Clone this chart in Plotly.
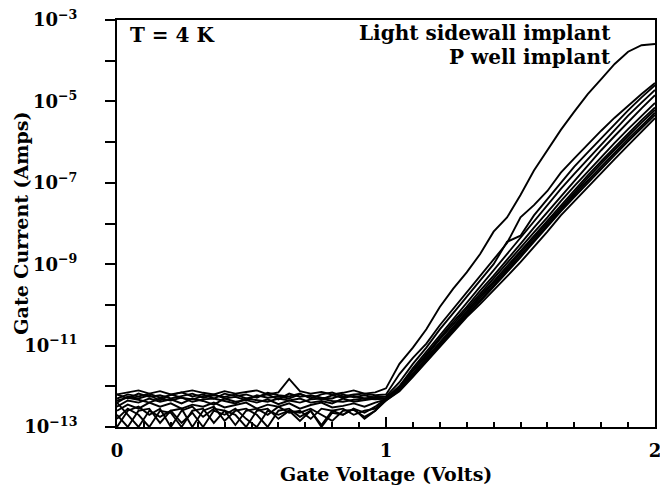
import plotly.graph_objects as go

# Gate voltage sample points (Volts)
v_floor = [0.00, 0.04, 0.08, 0.12, 0.16, 0.20, 0.24, 0.28, 0.32, 0.36, 0.40, 0.44, 0.48,
           0.52, 0.56, 0.60, 0.64, 0.68, 0.72, 0.76, 0.80, 0.84, 0.88, 0.92, 0.96]
v_rise = [1.00, 1.05, 1.10, 1.15, 1.20, 1.25, 1.30, 1.35, 1.40, 1.45, 1.50,
          1.55, 1.60, 1.65, 1.70, 1.75, 1.80, 1.85, 1.90, 1.95, 2.00]

# log10 of gate current (Amps)
a_floor = [-12.2, -12.15, -12.1, -12.18, -12.12, -12.2, -12.15, -12.1, -12.16, -12.2, -12.12, -12.18, -12.14,
           -12.1, -12.2, -12.15, -11.82, -12.12, -12.18, -12.14, -12.2, -12.16, -12.1, -12.18, -12.15]
a_rise = [-12.05, -11.45, -11.05, -10.6, -10.05, -9.6, -9.2, -8.75, -8.2, -7.85, -7.3,
          -6.7, -6.2, -5.7, -5.25, -4.82, -4.45, -4.08, -3.78, -3.62, -3.59]

b_floor = [-12.3, -12.2, -12.25, -12.18, -12.28, -12.22, -12.15, -12.25, -12.2, -12.3, -12.18, -12.24, -12.2,
           -12.28, -12.16, -12.22, -12.25, -12.18, -12.3, -12.2, -12.15, -12.25, -12.2, -12.18, -12.22]
b_rise = [-12.2, -11.7, -11.3, -10.95, -10.5, -10.1, -9.7, -9.3, -8.9, -8.48, -7.85,
          -7.55, -7.2, -6.75, -6.4, -6.05, -5.72, -5.4, -5.1, -4.82, -4.55]

c_floor = [-12.4, -12.25, -12.3, -12.22, -12.35, -12.2, -12.28, -12.32, -12.24, -12.2, -12.3, -12.26, -12.34,
           -12.22, -12.28, -12.25, -12.3, -12.2, -12.26, -12.32, -12.22, -12.28, -12.24, -12.3, -12.26]
c_rise = [-12.25, -11.9, -11.45, -11.05, -10.6, -10.2, -9.8, -9.4, -9.0, -8.45, -8.3,
          -7.8, -7.4, -7.0, -6.6, -6.25, -5.9, -5.55, -5.22, -4.9, -4.6]

d_floor = [-12.2, -12.3, -12.18, -12.26, -12.22, -12.3, -12.24, -12.18, -12.28, -12.22, -12.26, -12.2, -12.3,
           -12.25, -12.2, -12.32, -12.18, -12.26, -12.22, -12.28, -12.3, -12.2, -12.27, -12.22, -12.28]
d_rise = [-12.3, -12.0, -11.55, -11.15, -10.75, -10.35, -9.95, -9.55, -9.15, -8.75, -8.35,
          -7.95, -7.55, -7.15, -6.78, -6.42, -6.05, -5.7, -5.35, -5.03, -4.72]

e_floor = [-12.5, -12.35, -12.4, -12.3, -12.38, -12.32, -12.42, -12.3, -12.36, -12.45, -12.3, -12.38, -12.34,
           -12.4, -12.32, -12.44, -12.35, -12.3, -12.4, -12.36, -12.42, -12.3, -12.38, -12.34, -12.3]
e_rise = [-12.3, -12.0, -11.6, -11.2, -10.8, -10.42, -10.05, -9.65, -9.28, -8.9, -8.5,
          -8.1, -7.72, -7.33, -6.95, -6.58, -6.2, -5.85, -5.5, -5.17, -4.85]

f_floor = [-12.35, -12.28, -12.33, -12.4, -12.3, -12.35, -12.28, -12.38, -12.32, -12.3, -12.36, -12.42, -12.3,
           -12.34, -12.38, -12.3, -12.35, -12.4, -12.32, -12.3, -12.36, -12.38, -12.33, -12.3, -12.32]
f_rise = [-12.3, -12.02, -11.62, -11.25, -10.85, -10.48, -10.1, -9.72, -9.35, -8.98, -8.6,
          -8.22, -7.85, -7.45, -7.08, -6.72, -6.37, -6.02, -5.68, -5.35, -5.04]

g_floor = [-12.6, -12.45, -12.55, -12.4, -12.5, -12.42, -12.55, -12.45, -12.5, -12.4, -12.52, -12.46, -12.4,
           -12.55, -12.45, -12.5, -12.42, -12.55, -12.46, -12.4, -12.52, -12.48, -12.42, -12.5, -12.4]
g_rise = [-12.32, -12.05, -11.68, -11.3, -10.9, -10.52, -10.15, -9.78, -9.42, -9.05, -8.68,
          -8.3, -7.92, -7.55, -7.18, -6.82, -6.47, -6.12, -5.79, -5.46, -5.15]

h_floor = [-13.0, -12.6, -12.5, -12.7, -12.55, -13.0, -12.6, -12.5, -12.75, -12.55, -12.6, -12.95, -12.6,
           -12.55, -12.7, -12.5, -12.65, -12.6, -12.8, -12.55, -12.6, -12.7, -12.55, -12.65, -12.5]
h_rise = [-12.3, -12.08, -11.7, -11.32, -10.95, -10.58, -10.2, -9.83, -9.47, -9.1, -8.72,
          -8.35, -7.98, -7.6, -7.24, -6.88, -6.53, -6.18, -5.85, -5.52, -5.21]

i_floor = [-12.7, -13.0, -12.6, -12.55, -12.9, -12.6, -12.55, -13.0, -12.6, -12.5, -12.85, -12.6, -12.55,
           -12.7, -13.0, -12.6, -12.55, -12.75, -12.6, -12.95, -12.6, -12.55, -12.7, -12.6, -12.55]
i_rise = [-12.35, -12.1, -11.72, -11.35, -10.97, -10.6, -10.24, -9.88, -9.52, -9.15, -8.78,
          -8.4, -8.03, -7.66, -7.3, -6.95, -6.6, -6.25, -5.92, -5.6, -5.28]

j_floor = [-12.8, -12.55, -12.7, -13.0, -12.6, -12.65, -13.0, -12.6, -12.55, -12.9, -12.6, -12.7, -13.0,
           -12.6, -12.55, -12.8, -12.6, -12.65, -12.55, -12.7, -12.85, -12.6, -12.58, -12.75, -12.6]
j_rise = [-12.3, -12.1, -11.75, -11.38, -11.0, -10.62, -10.27, -9.92, -9.56, -9.2, -8.83,
          -8.45, -8.07, -7.7, -7.35, -7.0, -6.66, -6.32, -5.98, -5.65, -5.33]

l_floor = [-12.4, -12.7, -13.0, -12.6, -12.75, -12.6, -12.9, -12.65, -13.0, -12.6, -12.7, -12.55, -12.8,
           -13.0, -12.6, -12.7, -12.6, -12.85, -12.6, -13.0, -12.65, -12.7, -12.55, -12.8, -12.6]
l_rise = [-12.35, -12.12, -11.77, -11.4, -11.02, -10.65, -10.3, -9.98, -9.65, -9.3, -8.95,
          -8.58, -8.2, -7.8, -7.45, -7.1, -6.75, -6.42, -6.08, -5.75, -5.41]

y_tick_exps = [-13, -12, -11, -10, -9, -8, -7, -6, -5, -4, -3]
y_tick_text = ["10<sup>−13</sup>", "", "10<sup>−11</sup>", "", "10<sup>−9</sup>", "",
               "10<sup>−7</sup>", "", "10<sup>−5</sup>", "", "10<sup>−3</sup>"]
x_tick_vals = [0, 1, 2]
x_tick_text = ["0", "1", "2"]

curves = [(a_floor, a_rise), (b_floor, b_rise), (c_floor, c_rise), (d_floor, d_rise),
          (e_floor, e_rise), (f_floor, f_rise), (g_floor, g_rise), (h_floor, h_rise),
          (i_floor, i_rise), (j_floor, j_rise), (l_floor, l_rise)]

FONT = "DejaVu Serif"
fig = go.Figure()
for fl, ri in curves:
    xs = v_floor + v_rise
    ys = [10 ** e for e in fl + ri]
    fig.add_trace(go.Scatter(x=xs, y=ys, mode="lines",
                             line=dict(color="black", width=1.9),
                             showlegend=False, hoverinfo="skip"))

fig.update_layout(
    width=660, height=486,
    margin=dict(l=117, r=5, t=20, b=59),
    paper_bgcolor="white", plot_bgcolor="white",
    font=dict(family=FONT, size=16, color="black"),
    showlegend=False,
)
fig.update_xaxes(
    range=[0, 2], showgrid=False, zeroline=False, automargin=False,
    showline=True, linecolor="black", linewidth=2, mirror=True,
    tickmode="array", tickvals=x_tick_vals, ticktext=x_tick_text,
    ticks="inside", ticklen=10, tickwidth=2, tickcolor="black",
    minor=dict(dtick=0.1, ticks="inside", ticklen=5, tickwidth=1.5, tickcolor="black", showgrid=False),
    tickfont=dict(family=FONT, size=18, weight="bold"),
    ticklabelstandoff=6, ticklabeloverflow="allow",
)
fig.update_yaxes(
    type="log", range=[-13, -3], showgrid=False, zeroline=False, automargin=False,
    showline=True, linecolor="black", linewidth=2, mirror=True,
    tickmode="array", tickvals=[10 ** e for e in y_tick_exps], ticktext=y_tick_text,
    ticks="outside", ticklen=10, tickwidth=2, tickcolor="black",
    tickfont=dict(family=FONT, size=18, weight="bold"),
    ticklabelstandoff=24, ticklabeloverflow="allow",
)

title_font = dict(family=FONT, size=19, color="black", weight="bold")
fig.add_annotation(text="Gate Voltage (Volts)", xref="paper", yref="paper", x=0.5, y=-0.1155,
                   xanchor="center", yanchor="middle", showarrow=False, font=title_font)
fig.add_annotation(text="Gate Current (Amps)", xref="paper", yref="paper", x=-0.180, y=0.5,
                   xanchor="center", yanchor="middle", textangle=-90, showarrow=False, font=title_font)

ann_font = dict(family=FONT, size=20, color="black", weight="bold")
fig.add_annotation(text="T = 4 K", xref="paper", yref="paper", x=0.02, y=0.963,
                   xanchor="left", yanchor="middle", showarrow=False, font=ann_font)
fig.add_annotation(text="Light sidewall implant", xref="paper", yref="paper", x=0.922, y=0.968,
                   xanchor="right", yanchor="middle", showarrow=False, font=ann_font)
fig.add_annotation(text="P well implant", xref="paper", yref="paper", x=0.922, y=0.909,
                   xanchor="right", yanchor="middle", showarrow=False, font=ann_font)

# remove the browser's default 8px page margin so the figure sits at the window origin
fig.write_html("out.html", config={"displayModeBar": False},
               post_script="document.body.style.margin='0';document.body.style.overflow='hidden';")
